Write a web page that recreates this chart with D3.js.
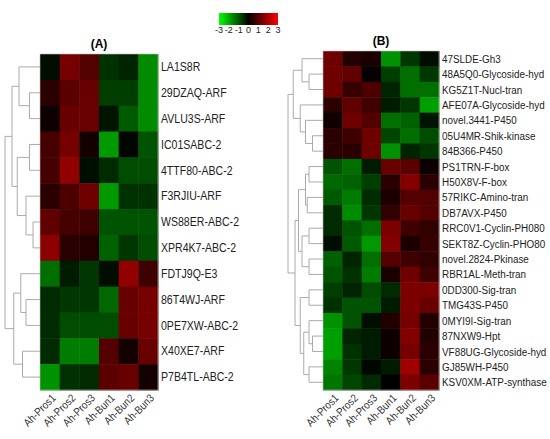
<!DOCTYPE html><html><head><meta charset="utf-8">
<script src="https://cdn.jsdelivr.net/npm/d3@7"></script>
<style>body{margin:0;background:#fff}</style></head><body><svg id="c" width="550" height="439"></svg>
<script>
const samples=["Ah-Pros1","Ah-Pros2","Ah-Pros3","Ah-Bun1","Ah-Bun2","Ah-Bun3"];
const legendTicks=[-3,-2,-1,0,1,2,3];
const genesA=["LA1S8R","29DZAQ-ARF","AVLU3S-ARF","IC01SABC-2","4TTF80-ABC-2","F3RJIU-ARF","WS88ER-ABC-2","XPR4K7-ABC-2","FDTJ9Q-E3","86T4WJ-ARF","0PE7XW-ABC-2","X40XE7-ARF","P7B4TL-ABC-2"];
const valuesA=[[-0.2,1.7,1.2,-0.7,-0.5,-2.0],[0.6,1.3,1.5,-0.9,-0.9,-2.0],[0.2,1.5,1.5,-0.3,-1.3,-2.0],[1.0,1.7,0.3,-2.2,-0.1,-1.2],[1.0,2.1,-0.2,-0.6,-1.1,-1.1],[0.6,1.1,1.6,-2.2,-0.7,-0.7],[1.4,1.0,0.9,-1.2,-1.2,-1.2],[2.0,0.6,0.5,-1.4,-0.8,-1.1],[-1.6,-0.4,-0.8,-0.2,2.1,0.9],[-0.6,-0.8,-0.8,-1.5,1.5,1.7],[-0.6,-1.1,-1.1,-1.1,1.5,1.7],[-0.6,-1.8,-1.8,1.2,0.3,1.5],[-2.1,-0.7,-0.6,1.3,1.5,0.3]];
const treeA={h:10,c:[{h:8,c:[{h:6,c:[0,{h:3,c:[1,2]}]},{h:6.5,c:[{h:3,c:[3,4]},{h:4,c:[5,{h:2,c:[6,7]}]}]}]},{h:7.5,c:[{h:5.5,c:[8,{h:4,c:[9,10]}]},{h:5,c:[11,12]}]}]};
const genesB=["47SLDE-Gh3","48A5Q0-Glycoside-hyd","KG5Z1T-Nucl-tran","AFE07A-Glycoside-hyd","novel.3441-P450","05U4MR-Shik-kinase","84B366-P450","PS1TRN-F-box","H50X8V-F-box","57RIKC-Amino-tran","DB7AVX-P450","RRC0V1-Cyclin-PH080","SEKT8Z-Cyclin-PHO80","novel.2824-Pkinase","RBR1AL-Meth-tran","0DD300-Sig-tran","TMG43S-P450","0MYI9I-Sig-tran","87NXW9-Hpt","VF88UG-Glycoside-hyd","GJ85WH-P450","KSV0XM-ATP-synthase"];
const valuesB=[[1.6,0.5,0.4,-2.1,-0.8,-0.2],[1.6,1.4,0.1,-0.9,-1.6,-0.8],[1.6,0.8,1.1,-0.5,-1.6,-1.6],[0.6,1.4,0.9,-0.4,-0.8,-2.3],[0.2,1.6,1.2,-1.6,-1.4,-0.3],[0.6,0.9,1.6,-1.0,-1.6,-1.1],[0.6,0.6,1.6,-2.1,-0.5,-0.8],[-1.2,-1.6,-0.4,1.5,1.3,0.2],[-1.5,-1.4,-0.9,0.6,1.9,0.6],[-1.3,-1.8,-0.6,0.4,1.2,1.2],[-0.6,-2.0,-0.8,0.7,1.5,1.2],[-0.6,-1.2,-1.6,1.8,0.9,0.7],[-0.2,-1.3,-2.2,1.9,0.4,0.8],[-1.4,-0.5,-1.6,1.2,0.9,0.7],[-1.2,-0.7,-1.8,0.4,1.6,0.9],[-0.9,-0.5,-1.1,-0.6,1.8,1.8],[-0.7,-1.2,-1.2,-0.4,1.8,1.5],[-2.1,-1.2,-0.2,0.5,1.7,0.5],[-2.3,-0.5,-0.4,0.2,1.9,0.5],[-2.3,-0.7,-0.4,0.2,1.7,0.6],[-1.9,-0.8,-0.1,-0.4,2.3,0.6],[-1.7,-1.0,-0.6,0.0,1.8,1.3]];
const treeB={h:10,c:[{h:8.5,c:[{h:6,c:[0,{h:4,c:[1,2]}]},{h:6.5,c:[3,{h:5,c:[4,{h:3,c:[5,6]}]}]}]},{h:8,c:[{h:7,c:[{h:5,c:[{h:4,c:[7,8]},{h:4.5,c:[9,10]}]},{h:6,c:[{h:4,c:[11,12]},{h:4,c:[13,14]}]}]},{h:6.5,c:[{h:4,c:[15,16]},{h:5.5,c:[{h:4,c:[17,{h:3,c:[18,19]}]},{h:4,c:[20,21]}]}]}]}]};

const svg=d3.select("#c");
const color=d3.scaleLinear().domain([-3,0,3]).range(["#00ff00","#000000","#ff0000"]).clamp(true);
const cellColor=d3.scaleLinear().domain([-3,0,3]).range(["#00d000","#000000","#d00000"]).clamp(true);
const font="Liberation Sans, Arial, sans-serif";

function panel(o){
  const g=svg.append("g");
  const x=d3.scaleBand().domain(samples).range([o.x0,o.x1]);
  const y=d3.scaleBand().domain(o.genes).range([o.y0,o.y1]);
  o.values.forEach((row,i)=>row.forEach((v,j)=>{
    g.append("rect").attr("x",x(samples[j])).attr("y",y(o.genes[i])).attr("width",x.bandwidth()+0.5).attr("height",y.bandwidth()+0.5).attr("fill",cellColor(v));
  }));
  g.append("rect").attr("x",o.x0).attr("y",o.y0).attr("width",o.x1-o.x0).attr("height",o.y1-o.y0).attr("fill","none").attr("stroke","#bbb").attr("stroke-width",0.6);
  g.selectAll(".gl").data(o.genes).join("text").attr("transform",d=>`translate(${o.x1+3},${y(d)+y.bandwidth()/2}) scale(${o.sx},1)`).attr("dy","0.35em")
    .attr("font-family",font).attr("font-size",o.fs).attr("fill","#222").text(d=>d);
  g.selectAll(".sl").data(samples).join("text").attr("transform",d=>`translate(${x(d)+x.bandwidth()/2+4},${o.y1+6}) rotate(-45) scale(0.88,1)`)
    .attr("text-anchor","end").attr("dy","0.35em").attr("font-family",font).attr("font-size",11).attr("fill","#333").text(d=>d);
  g.append("text").attr("x",(o.x0+o.x1)/2).attr("y",o.y0-6).attr("text-anchor","middle").attr("font-family",font).attr("font-weight","bold").attr("font-size",12).text(o.title);
  const hx=d3.scaleLinear().domain([0,10]).range([o.x0,o.dx]);
  function draw(n){
    if(typeof n==="number") return {y:y(o.genes[n])+y.bandwidth()/2,x:o.x0};
    const ch=n.c.map(draw); const nx=hx(n.h);
    ch.forEach(c=>g.append("path").attr("d",`M${c.x},${c.y}H${nx}`).attr("stroke","#aaa").attr("fill","none"));
    g.append("path").attr("d",`M${nx},${ch[0].y}V${ch[ch.length-1].y}`).attr("stroke","#aaa").attr("fill","none");
    return {x:nx,y:(ch[0].y+ch[ch.length-1].y)/2};
  }
  draw(o.tree);
}
panel({x0:40,x1:158,y0:54,y1:390,genes:genesA,values:valuesA,tree:treeA,dx:5,fs:12,sx:0.88,title:"(A)"});
panel({x0:323,x1:439,y0:51,y1:390,genes:genesB,values:valuesB,tree:treeB,dx:288,fs:11.5,sx:0.86,title:"(B)"});

const lx=d3.scaleLinear().domain([-3,3]).range([219,278]);
const gr=svg.append("defs").append("linearGradient").attr("id","lg");
legendTicks.forEach(t=>gr.append("stop").attr("offset",(t+3)/6).attr("stop-color",color(t)));
svg.append("rect").attr("x",219).attr("y",13).attr("width",59).attr("height",12).attr("fill","url(#lg)");
svg.selectAll(".lt").data(legendTicks).join("text").attr("x",d=>lx(d)).attr("y",33).attr("text-anchor","middle")
  .attr("font-family",font).attr("font-size",9).attr("fill","#222").text(d=>d);
</script></body></html>
